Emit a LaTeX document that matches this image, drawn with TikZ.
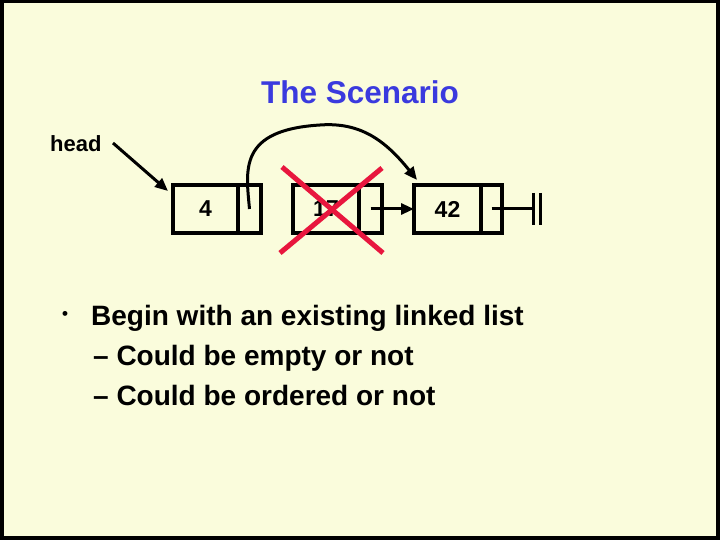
\documentclass[tikz,border=0pt]{standalone}
\usepackage{fontspec}
\setmainfont{Liberation Sans}
\usetikzlibrary{arrows.meta,calc}
\definecolor{bg}{RGB}{250,252,220}
\definecolor{ttl}{RGB}{58,58,222}
\definecolor{xred}{RGB}{232,22,62}
\begin{document}
\begin{tikzpicture}[x=1bp,y=-1bp,
  cell/.style={draw,line width=3.5bp,minimum height=48bp,inner sep=0pt,outer sep=0pt,
    font=\fontsize{23bp}{26bp}\selectfont\bfseries},
  link/.style={line width=3bp,-{Triangle[length=13bp,width=11bp]}},
  plain/.style={line width=3bp},
  txt/.style={inner sep=0pt,font=\fontsize{28bp}{34bp}\selectfont\bfseries},
  cross/.style={xred,line width=5bp}]
\fill[black] (0,0) rectangle (720,540);
\fill[bg] (4,3) rectangle (716,536);
\useasboundingbox (0,0) rectangle (720,540);
% title
\node[anchor=base,inner sep=0pt,text=ttl,font=\fontsize{31.5bp}{36bp}\selectfont\bfseries] (title) at (360,103.5) {The Scenario};
% head
\node[anchor=base west,inner sep=0pt,font=\fontsize{22bp}{26bp}\selectfont\bfseries] (head) at (50,152) {head};
% list nodes
\node[cell,minimum width=65bp] (n1d) at (205.5,209) {4};
\node[cell,minimum width=23bp,anchor=west] (n1p) at (n1d.east) {};
\node[cell,minimum width=66bp] (n2d) at (326,209) {17};
\node[cell,minimum width=23bp,anchor=west] (n2p) at (n2d.east) {};
\node[cell,minimum width=67bp] (n3d) at (447.5,209) {42\hspace{10bp}};
\node[cell,minimum width=21bp,anchor=west] (n3p) at (n3d.east) {};
% head arrow
\coordinate (ht) at (113,143);
\coordinate (hh) at (168,191);
\draw[link] (ht) -- (hh);
% link 17 -> 42
\draw[link] (n2p.center) -- (n3d.west);
% null terminator
\coordinate (nil) at (533,209);
\draw[plain] (n3p.center) -- (nil);
\draw[plain] ($(nil)+(0,-16)$) -- ($(nil)+(0,16)$);
\draw[plain] ($(nil)+(7,-16)$) -- ($(nil)+(7,16)$);
% bypass curve 4 -> 42
\coordinate (top) at (320,125);
\coordinate (tip) at (417,180);
\draw[link] (n1p.center) .. controls (246,170) and (238,130) .. (top)
  .. controls (360,122) and (385,140) .. (tip);
% red cross over 17
\draw[cross] (282,167) -- (383,253);
\draw[cross] (382,168) -- (280,253);
% bullets
\node[inner sep=0pt,font=\fontsize{17bp}{20bp}\selectfont\bfseries] (dot) at (65,315) {•};
\node[txt,anchor=base west] (b1) at (91,325) {Begin with an existing linked list};
\node[txt,anchor=base west] (s1) at (93,365) {– Could be empty or not};
\node[txt,anchor=base west] (s2) at (93,405) {– Could be ordered or not};
\end{tikzpicture}
\end{document}
